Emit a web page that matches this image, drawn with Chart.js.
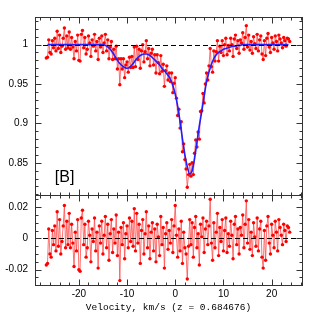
<!DOCTYPE html>
<html>
<head>
<meta charset="utf-8">
<script src="https://cdn.jsdelivr.net/npm/chart.js@4.4.1/dist/chart.umd.min.js"></script>
<style>
  html, body { margin: 0; padding: 0; background: #fff; }
  canvas { display: block; }
</style>
</head>
<body>
<canvas id="chartctx" width="319" height="319"></canvas>
<script>
const velocity = [
  -26.75, -26.5, -26.25, -26, -25.75, -25.5, -25.25, -25, -24.75, -24.5,
  -24.25, -24, -23.75, -23.5, -23.25, -23, -22.75, -22.5, -22.25, -22,
  -21.75, -21.5, -21.25, -21, -20.75, -20.5, -20.25, -20, -19.75, -19.5,
  -19.25, -19, -18.75, -18.5, -18.25, -18, -17.75, -17.5, -17.25, -17,
  -16.75, -16.5, -16.25, -16, -15.75, -15.5, -15.25, -15, -14.75, -14.5,
  -14.25, -14, -13.75, -13.5, -13.25, -13, -12.75, -12.5, -12.25, -12,
  -11.75, -11.5, -11.25, -11, -10.75, -10.5, -10.25, -10, -9.75, -9.5,
  -9.25, -9, -8.75, -8.5, -8.25, -8, -7.75, -7.5, -7.25, -7,
  -6.75, -6.5, -6.25, -6, -5.75, -5.5, -5.25, -5, -4.75, -4.5,
  -4.25, -4, -3.75, -3.5, -3.25, -3, -2.75, -2.5, -2.25, -2,
  -1.75, -1.5, -1.25, -1, -0.75, -0.5, -0.25, 0, 0.25, 0.5,
  0.75, 1, 1.25, 1.5, 1.75, 2, 2.25, 2.5, 2.75, 3,
  3.25, 3.5, 3.75, 4, 4.25, 4.5, 4.75, 5, 5.25, 5.5,
  5.75, 6, 6.25, 6.5, 6.75, 7, 7.25, 7.5, 7.75, 8,
  8.25, 8.5, 8.75, 9, 9.25, 9.5, 9.75, 10, 10.25, 10.5,
  10.75, 11, 11.25, 11.5, 11.75, 12, 12.25, 12.5, 12.75, 13,
  13.25, 13.5, 13.75, 14, 14.25, 14.5, 14.75, 15, 15.25, 15.5,
  15.75, 16, 16.25, 16.5, 16.75, 17, 17.25, 17.5, 17.75, 18,
  18.25, 18.5, 18.75, 19, 19.25, 19.5, 19.75, 20, 20.25, 20.5,
  20.75, 21, 21.25, 21.5, 21.75, 22, 22.25, 22.5, 22.75, 23,
  23.25, 23.5, 23.75
]

const flux = [
  0.983, 0.984, 1.006, 0.990, 0.988, 1.005, 0.996, 1.008, 0.992, 1.017,
  0.995, 1.012, 0.990, 0.998, 1.008, 1.021, 0.994, 1.011, 0.996, 1.016,
  0.994, 1.009, 0.997, 0.982, 1.004, 0.992, 1.012, 0.980, 0.979, 1.013,
  1.018, 0.996, 1.009, 0.988, 0.994, 1.011, 1.002, 0.985, 1.006, 0.998,
  1.013, 0.992, 1.004, 0.981, 1.008, 0.997, 1.011, 0.990, 1.002, 1.013,
  0.992, 1.006, 0.982, 0.997, 1.004, 0.981, 0.994, 0.982, 0.998, 0.969,
  0.982, 0.949, 0.982, 0.969, 0.982, 0.958, 0.974, 0.978, 0.965, 0.984,
  0.971, 0.985, 0.971, 0.997, 0.972, 0.998, 0.981, 0.994, 0.970, 0.992,
  1.000, 0.978, 0.991, 1.005, 0.982, 0.995, 0.973, 0.989, 0.994, 0.974,
  0.987, 0.964, 0.987, 0.977, 0.963, 0.986, 0.966, 0.975, 0.947, 0.967,
  0.973, 0.955, 0.964, 0.953, 0.964, 0.939, 0.951, 0.958, 0.932, 0.910,
  0.918, 0.894, 0.902, 0.864, 0.874, 0.854, 0.842, 0.819, 0.835, 0.848,
  0.833, 0.850, 0.835, 0.862, 0.879, 0.870, 0.889, 0.880, 0.915, 0.916,
  0.938, 0.926, 0.950, 0.964, 0.955, 0.973, 0.995, 0.972, 0.965, 0.992,
  0.979, 0.991, 1.005, 0.979, 0.998, 0.990, 1.005, 0.986, 1.000, 1.008,
  0.987, 0.999, 0.992, 1.008, 1.000, 0.985, 1.007, 1.012, 0.995, 1.005,
  0.989, 1.006, 1.002, 1.015, 0.994, 1.009, 1.024, 0.997, 1.012, 0.993,
  1.004, 0.989, 1.010, 1.001, 0.995, 1.013, 0.992, 1.006, 1.011, 0.988,
  0.981, 1.005, 0.986, 1.008, 1.014, 0.997, 0.990, 1.009, 1.002, 0.994,
  1.011, 1.004, 0.992, 1.012, 1.007, 1.002, 0.996, 1.009, 1.005, 0.998,
  1.008, 1.007, 1.004
]

const residual = [
  -0.017, -0.016, 0.006, -0.010, -0.012, 0.005, -0.004, 0.008, -0.008, 0.017,
  -0.005, 0.012, -0.010, -0.002, 0.008, 0.021, -0.006, 0.011, -0.004, 0.016,
  -0.006, 0.009, -0.003, -0.018, 0.004, -0.008, 0.012, -0.020, -0.021, 0.013,
  0.018, -0.004, 0.009, -0.012, -0.006, 0.011, 0.002, -0.015, 0.006, -0.002,
  0.013, -0.008, 0.004, -0.019, 0.008, -0.003, 0.011, -0.010, 0.002, 0.014,
  -0.006, 0.009, -0.014, 0.003, 0.012, -0.009, 0.006, -0.003, 0.015, -0.011,
  0.004, -0.027, 0.007, -0.004, 0.010, -0.013, 0.003, 0.008, -0.006, 0.013,
  -0.002, 0.011, -0.005, 0.019, -0.008, 0.016, -0.003, 0.009, -0.016, 0.005,
  0.012, -0.010, 0.003, 0.017, -0.006, 0.008, -0.013, 0.004, 0.010, -0.008,
  0.006, -0.015, 0.009, 0.001, -0.011, 0.014, -0.004, 0.007, -0.019, 0.003,
  0.010, -0.007, 0.005, -0.003, 0.012, -0.009, 0.008, 0.021, 0.002, -0.012,
  0.006, -0.008, 0.011, -0.016, 0.004, -0.006, -0.010, -0.026, -0.005, 0.012,
  -0.004, 0.010, -0.012, 0.007, 0.014, -0.006, 0.003, -0.017, 0.009, 0.001,
  0.013, -0.009, 0.006, 0.011, -0.004, 0.008, 0.025, -0.003, -0.014, 0.010,
  -0.006, 0.004, 0.016, -0.011, 0.007, -0.002, 0.012, -0.008, 0.005, 0.013,
  -0.009, 0.003, -0.005, 0.011, 0.002, -0.013, 0.009, 0.014, -0.004, 0.006,
  -0.010, 0.007, 0.002, 0.015, -0.006, 0.009, 0.024, -0.003, 0.012, -0.007,
  0.004, -0.011, 0.010, 0.001, -0.005, 0.013, -0.008, 0.006, 0.011, -0.012,
  -0.019, 0.005, -0.014, 0.008, 0.014, -0.003, -0.010, 0.009, 0.002, -0.006,
  0.011, 0.004, -0.008, 0.012, 0.007, 0.002, -0.004, 0.009, 0.005, -0.002,
  0.008, 0.007, 0.004
]

const modelVelocity = [
  -26.5, -26, -25.5, -25, -24.5, -24, -23.5, -23, -22.5, -22,
  -21.5, -21, -20.5, -20, -19.5, -19, -18.5, -18, -17.5, -17,
  -16.5, -16, -15.5, -15, -14.5, -14, -13.5, -13, -12.5, -12,
  -11.5, -11, -10.5, -10, -9.5, -9, -8.5, -8, -7.5, -7,
  -6.5, -6, -5.5, -5, -4.5, -4, -3.5, -3, -2.5, -2,
  -1.5, -1, -0.5, 0, 0.5, 1, 1.5, 2, 2.5, 3,
  3.5, 4, 4.5, 5, 5.5, 6, 6.5, 7, 7.5, 8,
  8.5, 9, 9.5, 10, 10.5, 11, 11.5, 12, 12.5, 13,
  13.5, 14, 14.5, 15, 15.5, 16, 16.5, 17, 17.5, 18,
  18.5, 19, 19.5, 20, 20.5, 21, 21.5, 22, 22.5, 23,
  23.5
]

const modelFlux = [
  1, 1, 1, 1, 1, 1, 1, 1, 1, 1,
  1, 1, 1, 1, 1, 1, 1, 1, 1, 1,
  1, 1, 1, 1, 0.999, 0.997, 0.994, 0.990, 0.985, 0.980,
  0.976, 0.973, 0.971, 0.970, 0.971, 0.974, 0.978, 0.982, 0.985, 0.987,
  0.988, 0.988, 0.987, 0.985, 0.982, 0.979, 0.976, 0.972, 0.968, 0.965,
  0.961, 0.956, 0.948, 0.937, 0.922, 0.902, 0.880, 0.860, 0.845, 0.836,
  0.840, 0.855, 0.876, 0.897, 0.915, 0.935, 0.953, 0.965, 0.975, 0.982,
  0.987, 0.990, 0.992, 0.994, 0.995, 0.996, 0.997, 0.998, 0.998, 0.999,
  0.999, 1, 1, 1, 1, 1, 1, 1, 1, 1,
  1, 1, 1, 1, 1, 1, 1, 1, 1, 1,
  1
]

const xTicks = [-20, -10, 0, 10, 20]
const fluxTicks = [0.85, 0.9, 0.95, 1]
const fluxTickLabels = ['0.85', '0.9', '0.95', '1']
const residTicks = [-0.02, 0, 0.02]
const residTickLabels = ['-0.02', '0', '0.02']
const continuumLevel = 1
const zeroLevel = 0
const panelLabel = '[B]'
const axisTitle = 'Velocity, km/s (z = 0.684676)'

const frameColor = '#333'
const tickFont = { family: 'Liberation Sans', size: 10 }

// inward ticks on all four sides of each panel, plus the dashed reference lines
const panelFrames = {
  id: 'panelFrames',
  afterDatasetsDraw(chart) {
    const { ctx, chartArea, scales } = chart
    const x = scales.x
    const seg = (x1, y1, x2, y2) => {
      ctx.beginPath()
      ctx.moveTo(x1, y1)
      ctx.lineTo(x2, y2)
      ctx.stroke()
    }

    ctx.save()
    ctx.strokeStyle = '#000'
    ctx.lineWidth = 1.2
    ctx.setLineDash([5, 3])
    ;[[scales.y, continuumLevel], [scales.y2, zeroLevel]].forEach(([s, v]) => {
      const py = Math.round(s.getPixelForValue(v)) + 0.5
      seg(chartArea.left, py, chartArea.right, py)
    })
    ctx.setLineDash([])

    ctx.strokeStyle = frameColor
    ctx.lineWidth = 1
    const panels = [
      { s: scales.y, minor: 0.01, major: 0.05 },
      { s: scales.y2, minor: 0.005, major: 0.02 },
    ]
    panels.forEach(({ s, minor, major }) => {
      const top = Math.round(s.top) + 0.5
      const bottom = Math.round(s.bottom) + 0.5
      const left = Math.round(chartArea.left) + 0.5
      const right = Math.round(chartArea.right) + 0.5
      ctx.strokeRect(left, top, right - left, bottom - top)

      for (let v = -28; v <= 26; v += 2) {
        const px = Math.round(x.getPixelForValue(v)) + 0.5
        const len = v % 10 === 0 ? 6 : 3
        seg(px, bottom, px, bottom - len)
        seg(px, top, px, top + len)
      }

      const k0 = Math.ceil(s.min / minor)
      const k1 = Math.floor(s.max / minor)
      for (let k = k0; k <= k1; k++) {
        const v = k * minor
        const r = v / major
        const len = Math.abs(r - Math.round(r)) < 1e-6 ? 6 : 3
        const py = Math.round(s.getPixelForValue(v)) + 0.5
        seg(left, py, left + len, py)
        seg(right, py, right - len, py)
      }
    })

    ctx.fillStyle = '#000'
    ctx.font = '16px "Liberation Sans"'
    ctx.textBaseline = 'alphabetic'
    ctx.fillText(panelLabel, x.getPixelForValue(-25), scales.y.getPixelForValue(0.826))
    ctx.restore()
  }
}

new Chart(document.getElementById('chartctx'), {
  type: 'line',
  data: {
    datasets: [
      {
        label: 'model',
        data: modelVelocity.map((v, i) => ({ x: v, y: modelFlux[i] })),
        yAxisID: 'y',
        borderColor: '#1f1fff',
        borderWidth: 1.6,
        pointRadius: 0,
        cubicInterpolationMode: 'monotone',
        order: 0,
      },
      {
        label: 'flux',
        data: velocity.map((v, i) => ({ x: v, y: flux[i] })),
        yAxisID: 'y',
        borderColor: '#ff4d4d',
        borderWidth: 0.8,
        pointRadius: 1.7,
        pointBackgroundColor: '#ff0000',
        pointBorderWidth: 0,
        order: 1,
      },
      {
        label: 'residual',
        data: velocity.map((v, i) => ({ x: v, y: residual[i] })),
        yAxisID: 'y2',
        borderColor: '#ff4d4d',
        borderWidth: 0.8,
        pointRadius: 1.7,
        pointBackgroundColor: '#ff0000',
        pointBorderWidth: 0,
        order: 1,
      },
    ]
  },
  options: {
    responsive: false,
    animation: false,
    devicePixelRatio: 1,
    layout: { padding: { top: 17, right: 17, bottom: 6, left: 0 } },
    plugins: { legend: { display: false }, tooltip: { enabled: false } },
    scales: {
      x: {
        type: 'linear',
        min: -29.1,
        max: 26.3,
        afterBuildTicks: s => { s.ticks = xTicks.map(v => ({ value: v })) },
        afterFit: s => { s.height = 28 },
        grid: { display: false, drawTicks: false },
        border: { display: false },
        ticks: { padding: 3, color: '#000', font: tickFont, autoSkip: false, maxRotation: 0 },
        title: {
          display: true,
          text: axisTitle,
          color: '#000',
          font: { family: 'Liberation Mono', size: 9.5 },
          padding: { top: 0, bottom: 0 },
        },
      },
      y2: {
        type: 'linear',
        position: 'left',
        stack: 'panels',
        stackWeight: 1,
        min: -0.0298,
        max: 0.0277,
        afterBuildTicks: s => { s.ticks = residTicks.map(v => ({ value: v })) },
        afterFit: s => { s.width = 35 },
        grid: { display: false, drawTicks: false },
        border: { display: false },
        ticks: { padding: 7, color: '#000', font: tickFont, callback: (v, i) => residTickLabels[i] },
      },
      y: {
        type: 'linear',
        position: 'left',
        stack: 'panels',
        stackWeight: 1.98,
        min: 0.809,
        max: 1.035,
        afterBuildTicks: s => { s.ticks = fluxTicks.map(v => ({ value: v })) },
        afterFit: s => { s.width = 35 },
        grid: { display: false, drawTicks: false },
        border: { display: false },
        ticks: { padding: 7, color: '#000', font: tickFont, callback: (v, i) => fluxTickLabels[i] },
      },
    }
  },
  plugins: [panelFrames],
})
</script>
</body>
</html>
